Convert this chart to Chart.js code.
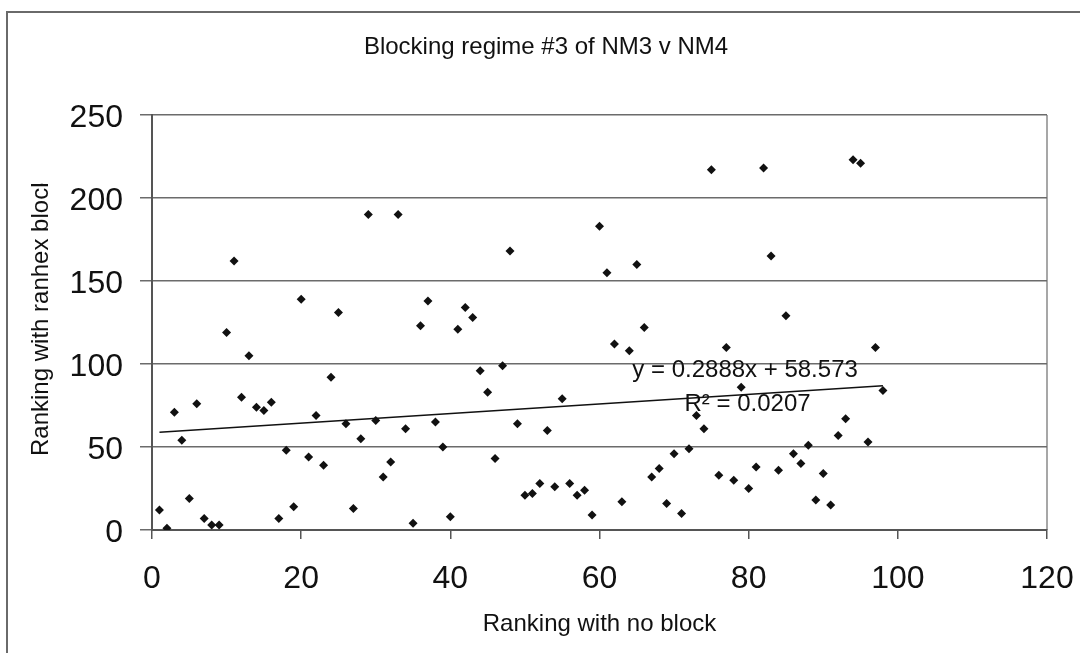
<!DOCTYPE html>
<html>
<head>
<meta charset="utf-8">
<title>Blocking regime #3 of NM3 v NM4</title>
<script src="https://cdn.jsdelivr.net/npm/chart.js@4.4.1/dist/chart.umd.min.js"></script>
<style>
  html, body { margin: 0; padding: 0; background: #fff; }
  #wrap { width: 1080px; height: 653px; }
</style>
</head>
<body>
<div id="wrap"><canvas id="scatter" width="1080" height="653"></canvas></div>
<script>
// ranking of each case without blocking (x) and with the ranhex blocking (y)
const rankNoBlock = [
   1,  2,  3,  4,  5,  6,  7,  8,  9, 10,
  11, 12, 13, 14, 15, 16, 17, 18, 19, 20,
  21, 22, 23, 24, 25, 26, 27, 28, 29, 30,
  31, 32, 33, 34, 35, 36, 37, 38, 39, 40,
  41, 42, 43, 44, 45, 46, 47, 48, 49, 50,
  51, 52, 53, 54, 55, 56, 57, 58, 59, 60,
  61, 62, 63, 64, 65, 66, 67, 68, 69, 70,
  71, 72, 73, 74, 75, 76, 77, 78, 79, 80,
  81, 82, 83, 84, 85, 86, 87, 88, 89, 90,
  91, 92, 93, 94, 95, 96, 97, 98
];
const rankRanhex = [
   12,   1,  71,  54,  19,  76,   7,   3,   3, 119,
  162,  80, 105,  74,  72,  77,   7,  48,  14, 139,
   44,  69,  39,  92, 131,  64,  13,  55, 190,  66,
   32,  41, 190,  61,   4, 123, 138,  65,  50,   8,
  121, 134, 128,  96,  83,  43,  99, 168,  64,  21,
   22,  28,  60,  26,  79,  28,  21,  24,   9, 183,
  155, 112,  17, 108, 160, 122,  32,  37,  16,  46,
   10,  49,  69,  61, 217,  33, 110,  30,  86,  25,
   38, 218, 165,  36, 129,  46,  40,  51,  18,  34,
   15,  57,  67, 223, 221,  53, 110,  84
];

const xTicks = [0, 20, 40, 60, 80, 100, 120];
const yTicks = [0, 50, 100, 150, 200, 250];

// linear fit shown on the chart
const trendSlope = 0.2888;
const trendIntercept = 58.573;
const trendFrom = 1;
const trendTo = 98;

const chartTitle = 'Blocking regime #3 of NM3 v NM4';
const xTitle = 'Ranking with no block';
const yTitle = 'Ranking with ranhex block';

const FONT = "'Liberation Sans', Arial, sans-serif";

const points = rankNoBlock.map((x, i) => ({ x: x, y: rankRanhex[i] }));
const trend = [trendFrom, trendTo].map(x => ({ x: x, y: trendSlope * x + trendIntercept }));

const textPlugin = {
  id: 'excelText',
  beforeDraw(chart) {
    const ctx = chart.ctx;
    const a = chart.chartArea;
    ctx.save();
    // outer chart frame
    ctx.strokeStyle = '#6a6a6a';
    ctx.lineWidth = 2;
    ctx.beginPath();
    ctx.moveTo(7, chart.height);
    ctx.lineTo(7, 12);
    ctx.lineTo(chart.width, 12);
    ctx.stroke();
    // plot area right edge
    ctx.strokeStyle = '#8a8a8a';
    ctx.lineWidth = 1.5;
    ctx.beginPath();
    ctx.moveTo(a.right, a.top);
    ctx.lineTo(a.right, a.bottom);
    ctx.stroke();
    ctx.restore();
  },
  afterDatasetsDraw(chart) {
    const ctx = chart.ctx;
    const xs = chart.scales.x, ys = chart.scales.y;
    ctx.save();
    ctx.fillStyle = '#111';
    ctx.font = '24px ' + FONT;
    ctx.textAlign = 'left';
    ctx.textBaseline = 'alphabetic';
    ctx.fillText('y = ' + trendSlope + 'x + ' + trendIntercept, xs.getPixelForValue(64.4), ys.getPixelForValue(92));
    ctx.fillText('R\u00B2 = 0.0207', xs.getPixelForValue(71.4), ys.getPixelForValue(71.5));
    ctx.restore();
  },
  afterDraw(chart) {
    const ctx = chart.ctx;
    const a = chart.chartArea;
    ctx.save();
    ctx.fillStyle = '#111';
    ctx.font = '24px ' + FONT;
    ctx.textBaseline = 'alphabetic';
    ctx.textAlign = 'center';
    ctx.fillText(chartTitle, 546, 54);
    ctx.fillText(xTitle, (a.left + a.right) / 2, 631);

    // vertical title, cut just after the stem of its last letter
    const yBase = 456;
    const cut = ctx.measureText(yTitle.slice(0, -1)).width + 4;
    ctx.beginPath();
    ctx.rect(0, yBase - cut, 100, cut + 20);
    ctx.clip();
    ctx.translate(48, yBase);
    ctx.rotate(-Math.PI / 2);
    ctx.textAlign = 'left';
    ctx.fillText(yTitle, 0, 0);
    ctx.restore();
  }
};

new Chart(document.getElementById('scatter'), {
  type: 'scatter',
  data: {
    datasets: [
      {
        label: 'ranks',
        data: points,
        pointStyle: 'rectRot',
        pointRadius: 4.5,
        pointBackgroundColor: '#111',
        pointBorderWidth: 0
      },
      {
        type: 'line',
        label: 'trend',
        data: trend,
        borderColor: '#111',
        borderWidth: 1.6,
        pointRadius: 0,
        fill: false
      }
    ]
  },
  options: {
    responsive: false,
    animation: false,
    devicePixelRatio: 1,
    layout: { padding: { left: 0, top: 115, right: 33, bottom: 0 } },
    plugins: {
      legend: { display: false },
      tooltip: { enabled: false }
    },
    scales: {
      x: {
        type: 'linear',
        min: 0,
        max: 120,
        afterBuildTicks: s => { s.ticks = xTicks.map(v => ({ value: v })); },
        afterFit: s => { s.height = 123; s.paddingLeft = 0; s.paddingRight = 0; },
        grid: { drawOnChartArea: false, color: '#555', lineWidth: 1.5, tickLength: 9 },
        border: { color: '#555', width: 2 },
        ticks: { color: '#111', font: { family: FONT, size: 32 }, padding: 21, maxRotation: 0 }
      },
      y: {
        type: 'linear',
        min: 0,
        max: 250,
        afterBuildTicks: s => { s.ticks = yTicks.map(v => ({ value: v })); },
        afterFit: s => { s.width = 152; s.paddingTop = 0; s.paddingBottom = 0; },
        grid: { color: '#6b6b6b', lineWidth: 1.5, tickLength: 12 },
        border: { color: '#555', width: 2 },
        ticks: { color: '#111', font: { family: FONT, size: 32 }, padding: 17, labelOffset: 3 }
      }
    }
  },
  plugins: [textPlugin]
});
</script>
</body>
</html>
